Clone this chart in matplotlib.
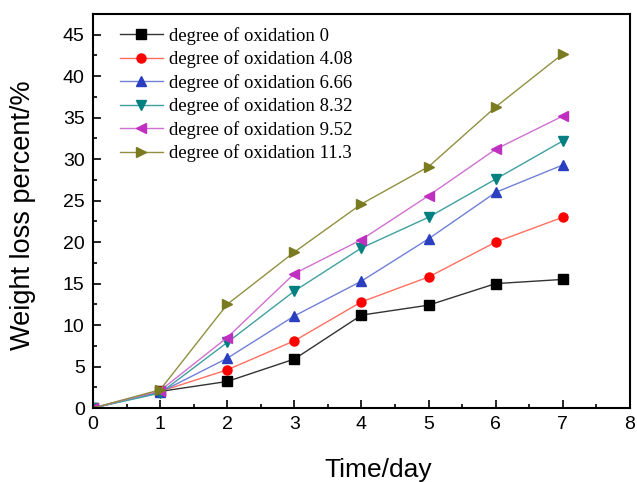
import matplotlib
matplotlib.use("Agg")
import matplotlib.pyplot as plt
from matplotlib.ticker import MultipleLocator

days = [0, 1, 2, 3, 4, 5, 6, 7]
labels = ["degree of oxidation 0", "degree of oxidation 4.08", "degree of oxidation 6.66",
          "degree of oxidation 8.32", "degree of oxidation 9.52", "degree of oxidation 11.3"]
ox_0 = [0, 2.0, 3.2, 5.9, 11.2, 12.4, 15.0, 15.5]
ox_408 = [0, 2.0, 4.6, 8.1, 12.8, 15.8, 20.0, 23.0]
ox_666 = [0, 1.9, 6.0, 11.1, 15.3, 20.4, 26.0, 29.3]
ox_832 = [0, 1.8, 7.9, 14.1, 19.3, 23.0, 27.6, 32.2]
ox_952 = [0, 2.1, 8.5, 16.2, 20.3, 25.6, 31.2, 35.2]
ox_113 = [0, 2.2, 12.5, 18.8, 24.6, 29.1, 36.3, 42.7]
series = [ox_0, ox_408, ox_666, ox_832, ox_952, ox_113]
markers = ["s", "o", "^", "v", "<", ">"]
colors = ["#000000", "#ff0000", "#2a3fc0", "#008080", "#c030c0", "#7a7a20"]
linecolors = ["#333333", "#ff7060", "#7080d8", "#40a0a0", "#d070d0", "#909040"]

fig = plt.figure(figsize=(6.37, 4.82), dpi=100)
ax = fig.add_axes([0.146, 0.1535, 0.843, 0.8175])
for ys, m, c, lc, lab in zip(series, markers, colors, linecolors, labels):
    ax.plot(days, ys, color=lc, lw=1.0, marker=m, markersize=6.5 if m in ("s", "o") else 7.5,
            markerfacecolor=c, markeredgecolor=c, label=lab)

ax.set_xlim(0, 8)
ax.set_ylim(0, 47.5)
ax.xaxis.set_major_locator(MultipleLocator(1))
ax.xaxis.set_minor_locator(MultipleLocator(0.5))
ax.set_yticks(range(0, 46, 5))
ax.yaxis.set_minor_locator(MultipleLocator(2.5))
ax.tick_params(which="both", direction="in", top=False, right=False, width=1.2)
ax.tick_params(which="major", length=6, labelsize=14, pad=6)
ax.tick_params(which="minor", length=3)
for lbl in ax.get_xticklabels() + ax.get_yticklabels():
    lbl.set_fontfamily("Liberation Sans")
for s in ax.spines.values():
    s.set_linewidth(1.5)
ax.set_xlabel("Time/day", fontsize=19, family="Liberation Sans")
ax.set_ylabel("Weight loss percent/%", fontsize=19.5, family="Liberation Sans")
ax.xaxis.label.set_va("center")
ax.xaxis.set_label_coords(0.531, -0.157)
ax.yaxis.label.set_va("center")
ax.yaxis.set_label_coords(-0.130, 0.49)
ax.legend(loc="upper left", frameon=False, prop={"family": "Liberation Serif", "size": 13.5},
          handlelength=2.3, labelspacing=0.3, borderaxespad=0.3, borderpad=0.4,
          handletextpad=0.35, bbox_to_anchor=(0.025, 1.0))
fig.savefig("out.png", dpi=100)
